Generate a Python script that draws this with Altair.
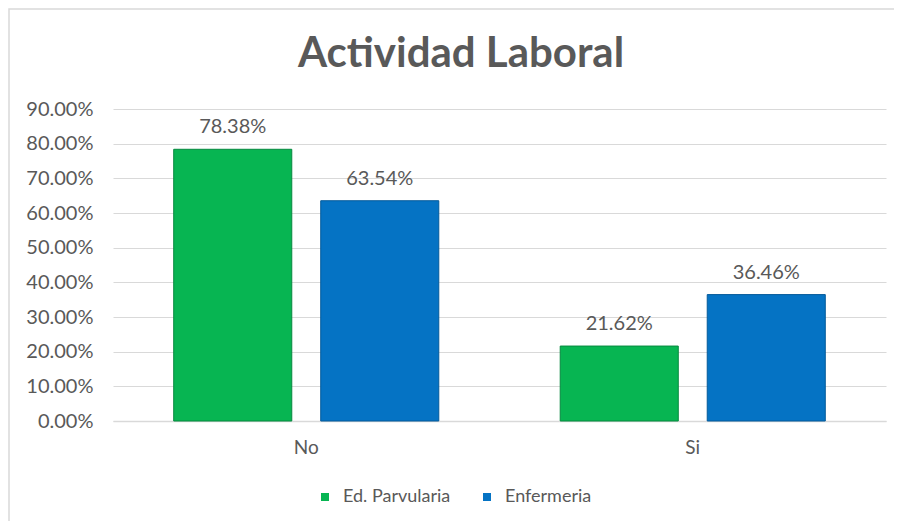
import altair as alt
import pandas as pd

categories = ["No", "No", "Si", "Si"]
series = ["Ed. Parvularia", "Enfermeria", "Ed. Parvularia", "Enfermeria"]
values = [0.7838, 0.6354, 0.2162, 0.3646]
series_order = ["Ed. Parvularia", "Enfermeria"]
colors = ["#07b552", "#0573c4"]
y_ticks = [0, 0.1, 0.2, 0.3, 0.4, 0.5, 0.6, 0.7, 0.8, 0.9]
title_text = ["Actividad Laboral"]

df = pd.DataFrame({"cat": categories, "serie": series, "val": values})

FONT = "Lato"
GRAY = "#595959"

x_enc = alt.X("cat:N", title=None, sort=["No", "Si"],
              scale=alt.Scale(paddingInner=0, paddingOuter=0),
              axis=alt.Axis(labelAngle=0, labelFontSize=19, labelColor=GRAY,
                            labelFont=FONT, labelPadding=17, ticks=False,
                            domainColor="#d9d9d9", domainWidth=1.5, grid=False))
xo_enc = alt.XOffset("serie:N", sort=series_order,
                     scale=alt.Scale(paddingInner=0.197, paddingOuter=0.413))
y_enc = alt.Y("val:Q", title=None,
              scale=alt.Scale(domain=[0, 0.9], nice=False),
              axis=alt.Axis(values=y_ticks, format=".2%", labelFontSize=20,
                            labelColor=GRAY, labelFont=FONT, labelPadding=20,
                            labelOverlap=False, ticks=False, domain=False,
                            gridColor="#d9d9d9", gridWidth=1))

base = alt.Chart(df).encode(x=x_enc, xOffset=xo_enc, y=y_enc)

bars = base.mark_bar(strokeWidth=1).encode(
    color=alt.Color("serie:N", sort=series_order,
                    scale=alt.Scale(domain=series_order, range=colors),
                    legend=alt.Legend(title=None, orient="none", direction="horizontal",
                                      legendX=203, legendY=379, symbolType="square",
                                      symbolSize=64, labelFontSize=18, labelFont=FONT,
                                      labelColor=GRAY, labelOffset=9, columnPadding=27,
                                      padding=0, symbolStrokeWidth=0)),
    stroke=alt.Stroke("serie:N", sort=series_order,
                      scale=alt.Scale(domain=series_order, range=["#06893f", "#045a9a"]),
                      legend=None),
)

labels = base.mark_text(baseline="alphabetic", dy=-16, fontSize=20, font=FONT,
                        color=GRAY).encode(
    text=alt.Text("val:Q", format=".2%"),
)

tdf = pd.DataFrame({"t": title_text})
title = alt.Chart(tdf).mark_text(fontSize=42, font=FONT, fontWeight="bold",
                                 color=GRAY, align="center", baseline="alphabetic",
                                 clip=False).encode(
    text="t:N", x=alt.value(348), y=alt.value(-42))

one = pd.DataFrame({"a": [0]})
border = alt.Chart(one).mark_rect(
    fill=None, stroke="#d9d9d9", strokeWidth=1.5, clip=False
).encode(
    x=alt.value(-104), x2=alt.value(3000),
    y=alt.value(-100), y2=alt.value(3000),
)

chart = alt.layer(bars, labels, title, border).properties(
    width=773, height=312,
    autosize=alt.AutoSizeParams(type="none"),
    padding={"left": 105, "top": 101, "right": 8, "bottom": 100},
).configure_view(stroke=None)

chart.save("out.html", embed_options={"renderer": "svg", "actions": False})
